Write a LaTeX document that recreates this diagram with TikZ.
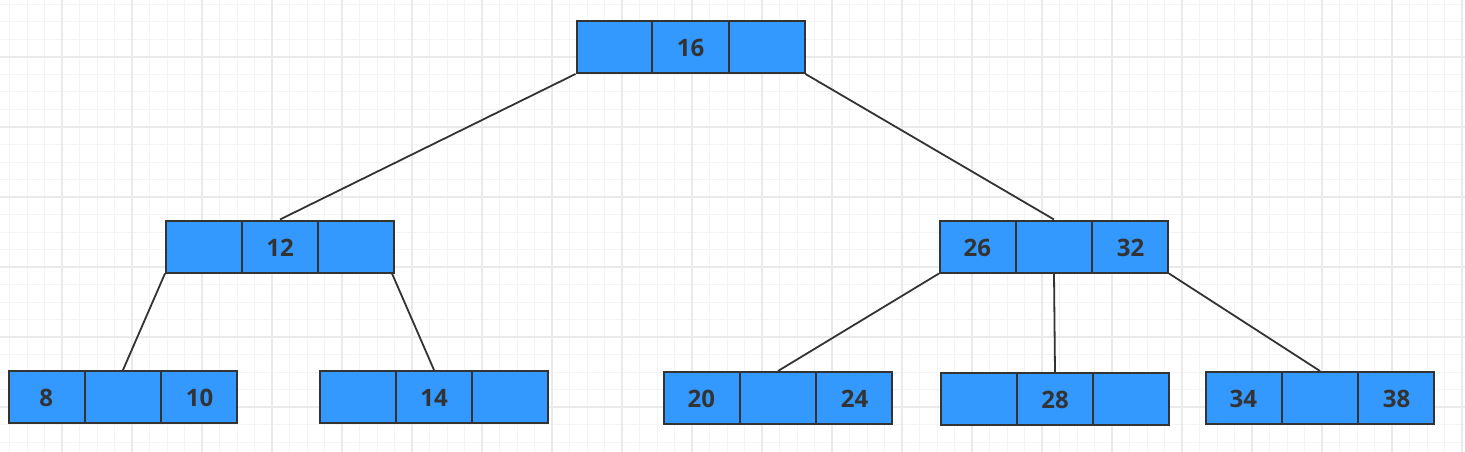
\documentclass[tikz,border=0pt]{standalone}
\usepackage{fontspec}
\setmainfont{Open Sans}
\usetikzlibrary{calc}
\definecolor{cellblue}{HTML}{3399FF}
\definecolor{ink}{HTML}{333333}
\definecolor{gridminor}{HTML}{F4F4F4}
\definecolor{gridmajor}{HTML}{EAEAEA}
\tikzset{
  block/.style={draw=ink, line width=2pt, fill=cellblue, minimum width=228pt, minimum height=52pt, inner sep=0pt},
  divider/.style={draw=ink, line width=2pt},
  lbl/.style={text=ink, font=\fontsize{24}{28}\selectfont\bfseries, inner sep=0pt, yshift=-1pt},
  edge/.style={draw=ink, line width=1.8pt},
}
\newcommand\bblock[6]{%
  \node[block] (#1) at (#2,#3) {};
  \draw[divider] ($(#1.north west)!1/3!(#1.north east)$) -- ($(#1.south west)!1/3!(#1.south east)$);
  \draw[divider] ($(#1.north west)!2/3!(#1.north east)$) -- ($(#1.south west)!2/3!(#1.south east)$);
  \node[lbl] (#1-l) at ($(#1.west)!1/6!(#1.east)$) {#4};
  \node[lbl] (#1-m) at (#1.center) {#5};
  \node[lbl] (#1-r) at ($(#1.west)!5/6!(#1.east)$) {#6};
}
\begin{document}
\begin{tikzpicture}[x=1pt,y=-1pt]
\useasboundingbox[fill=white] (0,0) rectangle (1465,452);
% grid
\foreach \k in {0,...,83} {\draw[gridminor, line width=1pt] (9.5+17.5*\k,0) -- (9.5+17.5*\k,452);}
\foreach \k in {0,...,25} {\draw[gridminor, line width=1pt] (0,4.5+17.5*\k) -- (1465,4.5+17.5*\k);}
\foreach \k in {0,...,20} {\draw[gridmajor, line width=1.2pt] (62+70*\k,0) -- (62+70*\k,452);}
\foreach \k in {0,...,5} {\draw[gridmajor, line width=1.2pt] (0,57+70*\k) -- (1465,57+70*\k);}
\bblock{root}{690.5}{47}{}{16}{}
\bblock{nl}{280}{246.5}{}{12}{}
\bblock{nr}{1054}{246.5}{26}{}{32}
\bblock{a}{123}{397}{8}{}{10}
\bblock{b}{434}{397}{}{14}{}
\bblock{c}{778}{398}{20}{}{24}
\bblock{d}{1055}{399}{}{28}{}
\bblock{e}{1320}{398}{34}{}{38}
\draw[edge] (root.south west) -- (nl.north);
\draw[edge] (root.south east) -- (nr.north);
\draw[edge] (nl.south west) -- (a.north);
\draw[edge] ($(nl.south east)+(-3,0)$) -- (b.north);
\draw[edge] (nr.south west) -- (c.north);
\draw[edge] (nr.south) -- (d.north);
\draw[edge] (nr.south east) -- (e.north);
\end{tikzpicture}
\end{document}
